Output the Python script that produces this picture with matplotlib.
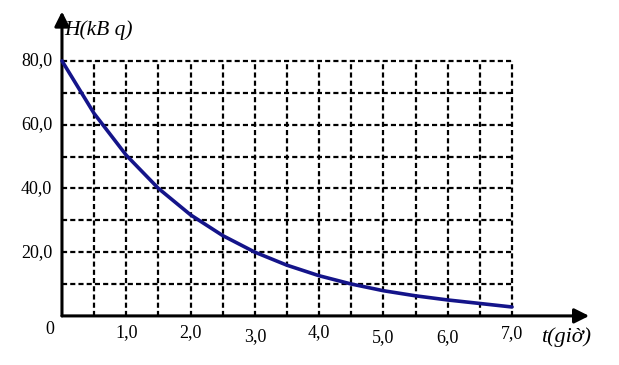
import matplotlib
matplotlib.use("Agg")
import matplotlib.pyplot as plt

# Data
t_values = [0.0, 0.5, 1.0, 1.5, 2.0, 2.5, 3.0, 3.5, 4.0, 4.5, 5.0, 5.5, 6.0, 6.5, 7.0]
H_values = [80.0, 63.5, 50.4, 40.0, 31.7, 25.2, 20.0, 15.9, 12.6, 10.0, 7.9, 6.3, 5.0, 3.9, 2.8]

x_tick_values = [1.0, 2.0, 3.0, 4.0, 5.0, 6.0, 7.0]
x_tick_labels = ["1,0", "2,0", "3,0", "4,0", "5,0", "6,0", "7,0"]
y_tick_values = [20.0, 40.0, 60.0, 80.0]
y_tick_labels = ["20,0", "40,0", "60,0", "80,0"]

serif = "Liberation Serif"

fig = plt.figure(figsize=(6.19, 3.65), dpi=100)
ax = fig.add_axes([0, 0, 1, 1])
ax.set_xlim(-0.964, 8.664)
ax.set_ylim(-15.4, 99.1)
ax.axis("off")

# dashed grid
grid_kw = dict(color="black", lw=1.6, dashes=(2.3, 1.4), zorder=1)
for i in range(1, 15):
    gx = i * 0.5
    ax.plot([gx, gx], [0, 80], **grid_kw)
for j in range(1, 9):
    gy = j * 10
    ax.plot([0, 7], [gy, gy], **grid_kw)

# axes with arrows
ax.annotate("", xy=(8.2, 0), xytext=(0, 0),
            arrowprops=dict(arrowstyle="-|>", mutation_scale=22, lw=2.2,
                            color="black", shrinkA=0, shrinkB=0), zorder=3)
ax.annotate("", xy=(0, 95.5), xytext=(0, 0),
            arrowprops=dict(arrowstyle="-|>", mutation_scale=22, lw=2.2,
                            color="black", shrinkA=0, shrinkB=0), zorder=3)

# curve
ax.plot(t_values, H_values, color="#14148a", lw=2.6, zorder=4,
        solid_capstyle="round")

# tick labels
label_y = [-5.3, -5.3, -6.6, -5.3, -6.9, -6.9, -5.6]
for v, lab, ly in zip(x_tick_values, x_tick_labels, label_y):
    ax.text(v, ly, lab, fontsize=13, family=serif, ha="center", va="center")
for v, lab in zip(y_tick_values, y_tick_labels):
    ax.text(-0.15, v, lab, fontsize=13, family=serif, ha="right", va="center")
ax.text(-0.19, -4.4, "0", fontsize=13, family=serif, ha="center", va="center")

# axis titles
ax.text(0.04, 89.5, "H(kB q)", fontsize=15.5, family=serif, style="italic",
        ha="left", va="center")
ax.text(7.45, -6.6, "t(giờ)", fontsize=16, family=serif, style="italic",
        ha="left", va="center")

fig.savefig("out.png", dpi=100)
